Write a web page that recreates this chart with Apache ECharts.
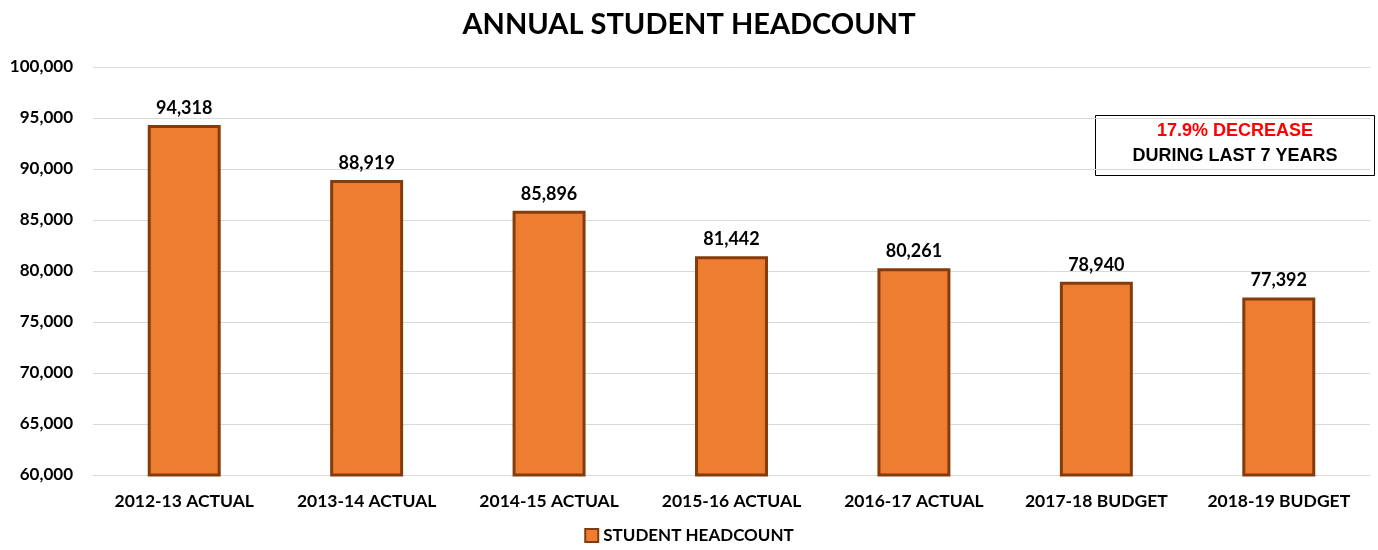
<!DOCTYPE html>
<html><head><meta charset="utf-8">
<script src="https://cdn.jsdelivr.net/npm/echarts@6/dist/echarts.min.js"></script>
<style>html,body{margin:0;padding:0;background:#fff}#c{width:1378px;height:550px}</style>
</head><body><div id="c"></div>
<script>
const categories = ['2012-13 ACTUAL','2013-14 ACTUAL','2014-15 ACTUAL','2015-16 ACTUAL','2016-17 ACTUAL','2017-18 BUDGET','2018-19 BUDGET'];
const headcount = [94318, 88919, 85896, 81442, 80261, 78940, 77392];
const seriesName = 'STUDENT HEADCOUNT';
const titleText = 'ANNUAL STUDENT HEADCOUNT';
const noteLine1 = '17.9% DECREASE';
const noteLine2 = 'DURING LAST 7 YEARS';
const FONT = 'Lato, "Open Sans", sans-serif';
const chart = echarts.init(document.getElementById('c'));
chart.setOption({
  animation:false,
  title:{text:titleText,left:'center',top:5,textStyle:{fontFamily:FONT,fontWeight:'bold',fontSize:29,color:'#000'}},
  grid:{left:93,right:8,top:67,bottom:75},
  legend:{bottom:1,left:'center',itemWidth:13,itemHeight:13,itemGap:4,
    textStyle:{fontFamily:FONT,fontWeight:'bold',fontSize:17,color:'#000'},
    data:[{name:seriesName,icon:'rect'}]},
  xAxis:{type:'category',data:categories,axisTick:{show:false},
    axisLine:{lineStyle:{color:'#d9d9d9',width:1}},
    axisLabel:{interval:0,fontFamily:FONT,fontWeight:'bold',fontSize:17.5,color:'#000',margin:17}},
  yAxis:{type:'value',min:60000,max:100000,interval:5000,
    axisLabel:{fontFamily:FONT,fontWeight:'bold',fontSize:17,color:'#000',margin:20,
      formatter:v=>v.toLocaleString('en-US')},
    splitLine:{lineStyle:{color:'#d9d9d9'}}},
  series:[{name:seriesName,type:'bar',data:headcount,barWidth:'40%',
    itemStyle:{color:'#ed7d31',borderColor:'#843c0c',borderWidth:3},
    label:{show:true,position:'top',distance:8,fontFamily:FONT,fontWeight:'bold',fontSize:18,color:'#000',
      formatter:p=>p.value.toLocaleString('en-US')}}],
  graphic:[{type:'group',left:1095,top:115,children:[
    {type:'rect',shape:{x:0,y:0,width:279,height:60},style:{fill:'#fff',stroke:'#000',lineWidth:1}},
    {type:'text',x:139.5,y:16,style:{text:noteLine1,fill:'#ff0000',font:'bold 18px "Liberation Sans", Arial, sans-serif',textAlign:'center',textVerticalAlign:'middle'}},
    {type:'text',x:139.5,y:41,style:{text:noteLine2,fill:'#000',font:'bold 18px "Liberation Sans", Arial, sans-serif',textAlign:'center',textVerticalAlign:'middle'}}
  ]}]
});
</script></body></html>
